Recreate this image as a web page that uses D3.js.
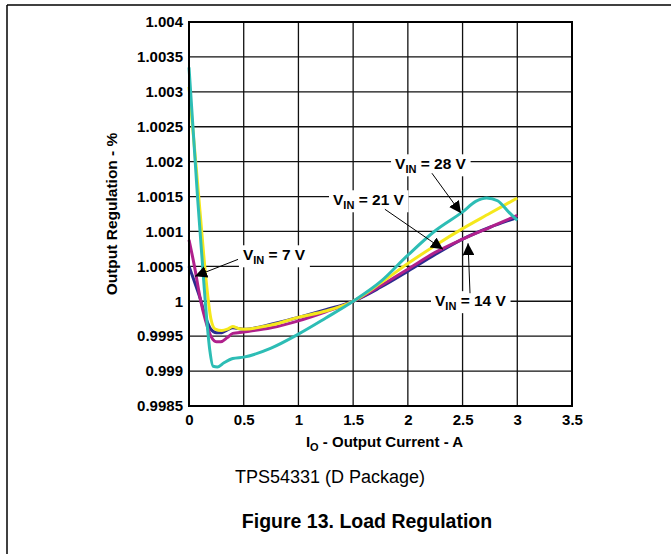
<!DOCTYPE html>
<html><head><meta charset="utf-8">
<script src="https://cdn.jsdelivr.net/npm/d3@7"></script>
<style>body{margin:0;background:#fff}svg{display:block}text{font-family:"Liberation Sans",Arial,sans-serif}</style>
</head><body><svg id="c" width="671" height="554"></svg>
<script>
// ---- data ----
const xTicks = [0, 0.5, 1, 1.5, 2, 2.5, 3, 3.5];
const xTickLabels = ["0", "0.5", "1", "1.5", "2", "2.5", "3", "3.5"];
const yTicks = [0.9985, 0.999, 0.9995, 1, 1.0005, 1.001, 1.0015, 1.002, 1.0025, 1.003, 1.0035, 1.004];
const yTickLabels = ["0.9985", "0.999", "0.9995", "1", "1.0005", "1.001", "1.0015", "1.002", "1.0025", "1.003", "1.0035", "1.004"];

const seriesNames = ["7 V", "14 V", "21 V", "28 V"];
const seriesColors = ["#2b2b8f", "#b0208c", "#f5e81c", "#2dbdb5"];

const current7 = [0, 0.05, 0.1, 0.15, 0.2, 0.25, 0.3, 0.35, 0.4, 0.5, 0.75, 1.0, 1.25, 1.5, 1.75, 2.0, 2.25, 2.5, 2.75, 3.0];
const reg7 = [1.0005, 1.00028, 1.00005, 0.99978, 0.9996, 0.99955, 0.99955, 0.99959, 0.99962, 0.9996, 0.99967, 0.99977, 0.99988, 1.0, 1.0002, 1.00043, 1.00067, 1.00089, 1.00106, 1.0012];

const current14 = [0, 0.05, 0.1, 0.15, 0.2, 0.25, 0.29, 0.35, 0.4, 0.5, 0.75, 1.0, 1.25, 1.5, 1.75, 2.0, 2.25, 2.5, 2.75, 3.0];
const reg14 = [1.00088, 1.0005, 1.00006, 0.99973, 0.9995, 0.99942, 0.99942, 0.99948, 0.99954, 0.99956, 0.99962, 0.99972, 0.99985, 1.0, 1.00022, 1.00046, 1.0007, 1.00089, 1.00106, 1.00123];

const current21 = [0, 0.05, 0.1, 0.15, 0.2, 0.24, 0.3, 0.35, 0.4, 0.45, 0.5, 0.75, 1.0, 1.25, 1.5, 1.75, 2.0, 2.25, 2.5, 2.75, 3.0];
const reg21 = [1.00307, 1.0022, 1.0013, 1.0004, 0.99975, 0.9996, 0.99958, 0.9996, 0.99964, 0.99961, 0.9996, 0.99966, 0.99977, 0.99986, 1.0, 1.00026, 1.00054, 1.0008, 1.00104, 1.00126, 1.00148];

const current28 = [0, 0.04, 0.08, 0.12, 0.16, 0.19, 0.22, 0.26, 0.32, 0.4, 0.5, 0.75, 1.0, 1.25, 1.5, 1.75, 2.0, 2.25, 2.5, 2.62, 2.72, 2.82, 2.92, 3.0];
const reg28 = [1.00335, 1.0024, 1.00145, 1.0006, 0.99978, 0.9993, 0.99907, 0.99906, 0.99912, 0.99918, 0.9992, 0.99933, 0.99953, 0.99976, 1.0, 1.00028, 1.00066, 1.00101, 1.00128, 1.00143, 1.00148, 1.00144, 1.00128, 1.00116];

// annotation labels: [text value, text x, text baseline y, arrow start x, y, arrow tip x, y]
const annotValues = ["28 V", "21 V", "14 V", "7 V"];
const annotTextX = [1.883, 1.316, 2.248, 0.493];
const annotTextY = [1.00189, 1.001375, 0.99993, 1.000587];
const annotFromX = [2.22, 1.79, 2.568, 0.448];
const annotFromY = [1.001834, 1.001318, 1.000115, 1.0006];
const annotToX = [2.486, 2.321, 2.55, 0.055];
const annotToY = [1.00126, 1.000745, 1.00083, 1.000358];

// ---- drawing ----
const svg = d3.select("#c");
const L = 189, R = 572, T = 22, B = 406;
const x = d3.scaleLinear().domain([0, 3.5]).range([L, R]);
const y = d3.scaleLinear().domain([0.9985, 1.004]).range([B, T]);

// page frame
svg.append("line").attr("x1", 7).attr("x2", 671).attr("y1", 5).attr("y2", 5).attr("stroke", "#000").attr("stroke-width", 1.5);
svg.append("line").attr("x1", 7).attr("x2", 7).attr("y1", 5).attr("y2", 554).attr("stroke", "#000").attr("stroke-width", 1.5);

// grid
const grid = svg.append("g");
grid.selectAll("line.v").data(xTicks.slice(1, -1)).join("line")
  .attr("x1", d => x(d)).attr("x2", d => x(d)).attr("y1", T).attr("y2", B)
  .attr("stroke", "#111").attr("stroke-width", 1.3);
grid.selectAll("line.h").data(yTicks.slice(1, -1)).join("line")
  .attr("y1", d => y(d)).attr("y2", d => y(d)).attr("x1", L).attr("x2", R)
  .attr("stroke", "#111").attr("stroke-width", 1.3);

// axes tick labels
const xAxis = d3.axisBottom(x).tickValues(xTicks).tickSize(0).tickPadding(8)
  .tickFormat((d, i) => xTickLabels[i]);
const gx = svg.append("g").attr("transform", `translate(0,${B})`).call(xAxis);
gx.select(".domain").remove();
gx.selectAll("text").attr("font-size", 15).attr("font-weight", "bold").attr("fill", "#000")
  .attr("font-family", "Liberation Sans, Arial, sans-serif");

const yAxis = d3.axisLeft(y).tickValues(yTicks).tickSize(0).tickPadding(6)
  .tickFormat((d, i) => yTickLabels[i]);
const gy = svg.append("g").attr("transform", `translate(${L},0)`).call(yAxis);
gy.select(".domain").remove();
gy.selectAll("text").attr("font-size", 15).attr("font-weight", "bold").attr("fill", "#000")
  .attr("font-family", "Liberation Sans, Arial, sans-serif");

// annotation backgrounds + text (before lines so that lines draw over? labels are above grid)
const annG = svg.append("g");
annotValues.forEach((v, i) => {
  const g = annG.append("g");
  const t = g.append("text").attr("x", x(annotTextX[i])).attr("y", y(annotTextY[i]))
    .attr("font-size", 15.5).attr("font-weight", "bold").attr("fill", "#000");
  t.append("tspan").text("V");
  t.append("tspan").attr("font-size", 11).attr("dy", 4).text("IN");
  t.append("tspan").attr("dy", -4).text(" = " + v);
  const bb = t.node().getBBox();
  g.insert("rect", "text").attr("x", bb.x - 4).attr("y", bb.y - 1).attr("width", bb.width + 8).attr("height", bb.height + 2).attr("fill", "#fff");
});

// series lines
const line = d3.line().x(d => x(d[0])).y(d => y(d[1])).curve(d3.curveMonotoneX);
const seriesX = [current7, current14, current21, current28];
const seriesY = [reg7, reg14, reg21, reg28];
seriesX.forEach((xs, i) => {
  const pts = xs.map((v, j) => [v, seriesY[i][j]]);
  svg.append("path").datum(pts).attr("d", line).attr("fill", "none")
    .attr("stroke", seriesColors[i]).attr("stroke-width", 3).attr("stroke-linejoin", "round");
});

// plot border
svg.append("rect").attr("x", L).attr("y", T).attr("width", R - L).attr("height", B - T)
  .attr("fill", "none").attr("stroke", "#000").attr("stroke-width", 2);

// arrows
const defs = svg.append("defs");
defs.append("marker").attr("id", "ah").attr("viewBox", "0 0 10 10").attr("refX", 10).attr("refY", 5)
  .attr("markerWidth", 12).attr("markerHeight", 12).attr("markerUnits", "userSpaceOnUse").attr("orient", "auto")
  .append("path").attr("d", "M0,0 L10,5 L0,10 Z").attr("fill", "#000");
annotValues.forEach((v, i) => {
  svg.append("line").attr("x1", x(annotFromX[i])).attr("y1", y(annotFromY[i]))
    .attr("x2", x(annotToX[i])).attr("y2", y(annotToY[i]))
    .attr("stroke", "#000").attr("stroke-width", 1).attr("marker-end", "url(#ah)");
});

// axis titles
const xt = svg.append("text").attr("x", (L + R) / 2 + 4).attr("y", 447).attr("text-anchor", "middle")
  .attr("font-size", 15).attr("font-weight", "bold");
xt.append("tspan").text("I");
xt.append("tspan").attr("font-size", 11).attr("dy", 4).text("O");
xt.append("tspan").attr("dy", -4).text(" - Output Current - A");

svg.append("text").attr("transform", "translate(117,214) rotate(-90)").attr("text-anchor", "middle")
  .attr("font-size", 15.5).attr("font-weight", "bold").text("Output Regulation - %");

svg.append("text").attr("x", 330).attr("y", 483).attr("text-anchor", "middle")
  .attr("font-size", 18).text("TPS54331 (D Package)");
svg.append("text").attr("x", 367).attr("y", 528).attr("text-anchor", "middle")
  .attr("font-size", 19.5).attr("font-weight", "bold").text("Figure 13. Load Regulation");
</script></body></html>
